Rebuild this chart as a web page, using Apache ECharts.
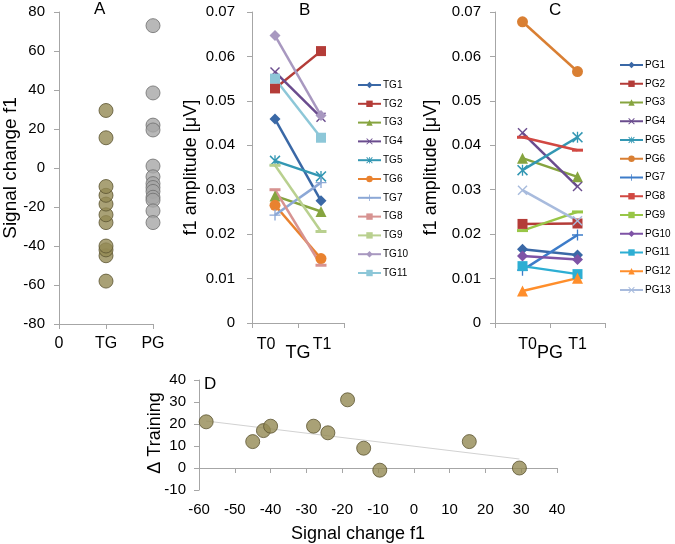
<!DOCTYPE html>
<html>
<head>
<meta charset="utf-8">
<script src="https://cdn.jsdelivr.net/npm/echarts@6/dist/echarts.min.js"></script>
<style>html,body{margin:0;padding:0;background:#fff;}#c{width:675px;height:544px;}</style>
</head>
<body>
<div id="c"></div>
<script>
// ---- Data ----
const tgChange = [-58, -45, -42, -40, -28, -24, -18.5, -14, -9.5, 15.5, 29.5];
const dTraining = [21, 12, 17, 19, 19, 16, 31, 9, -1, 12, 0];
const pgChange = [73, 38.5, 22, 19.5, 1, -4.5, -8, -10, -12, -15, -16.5, -22, -28];

const groupTicks = ['0', 'TG', 'PG'];
const timeCats = ['T0', 'T1'];

const tgNames = ['TG1','TG2','TG3','TG4','TG5','TG6','TG7','TG8','TG9','TG10','TG11'];
const tgT0 = [0.0459, 0.0528, 0.0286, 0.0565, 0.0365, 0.0265, 0.0243, 0.0300, 0.0355, 0.0647, 0.0550];
const tgT1 = [0.0275, 0.0612, 0.0251, 0.0463, 0.0330, 0.0145, 0.0316, 0.0130, 0.0206, 0.0467, 0.0417];

const pgNames = ['PG1','PG2','PG3','PG4','PG5','PG6','PG7','PG8','PG9','PG10','PG11','PG12','PG13'];
const pgT0 = [0.0166, 0.0223, 0.0371, 0.0428, 0.0344, 0.0678, 0.0119, 0.0418, 0.0208, 0.0151, 0.0128, 0.0072, 0.0299];
const pgT1 = [0.0153, 0.0224, 0.0329, 0.0307, 0.0418, 0.0566, 0.0198, 0.0389, 0.0250, 0.0143, 0.0110, 0.0101, 0.0230];

// ---- Styles ----
const FONT = 'Liberation Sans, Arial, sans-serif';
const AX = '#A6A6A6';
const xPath = 'path://M0,1 L1,0 L5,4 L9,0 L10,1 L6,5 L10,9 L9,10 L5,6 L1,10 L0,9 L4,5 Z';
const starPath = 'path://M0,1 L1,0 L5,4 L9,0 L10,1 L6,5 L10,9 L9,10 L5,6 L1,10 L0,9 L4,5 Z M4.4,0 L5.6,0 L5.6,10 L4.4,10 Z';
const plusPath = 'path://M4.4,0 H5.6 V4.4 H10 V5.6 H5.6 V10 H4.4 V5.6 H0 V4.4 H4.4 Z';
const dashPath = 'path://M0,0 H10 V2 H0 Z';
const SYM = {
  diamond: ['diamond', 11], rect: ['rect', 10], triangle: ['triangle', 11], x: [xPath, 10],
  star: [starPath, 11], circle: ['circle', 11], plus: [plusPath, 11], dash: [dashPath, [11, 3]]
};
const tgSym = ['diamond','rect','triangle','x','star','circle','plus','dash','dash','diamond','rect'];
const pgSym = ['diamond','rect','triangle','x','star','circle','plus','dash','dash','diamond','rect','triangle','x'];
const tgColors = ['#3A68A6','#B43C38','#86A43F','#6A4C8E','#3397B3','#E9822F','#8CA8D6','#D79391','#B9D08F','#A898C0','#8DC7D8'];
const pgColors = ['#3A68A6','#B43C38','#86A43F','#6A4C8E','#3397B3','#D97F33','#3D7CC9','#D14842','#98C647','#7E53A6','#2DAED3','#FF8E2B','#A8BBDD'];

const axisCommon = {
  axisLine: { show: true, onZero: false, lineStyle: { color: AX, width: 1 } },
  axisTick: { show: true, inside: false, length: 5, lineStyle: { color: AX } },
  splitLine: { show: false },
  nameMoveOverlap: false,
  axisLabel: { color: '#000', fontSize: 15, fontFamily: FONT },
  nameTextStyle: { color: '#000', fontSize: 18, fontFamily: FONT }
};
function ax(o) { return Object.assign({}, JSON.parse(JSON.stringify(axisCommon)), o); }

// trend line (least squares)
const n = tgChange.length;
const mx = tgChange.reduce((a, b) => a + b, 0) / n;
const my = dTraining.reduce((a, b) => a + b, 0) / n;
let sxy = 0, sxx = 0;
for (let i = 0; i < n; i++) { sxy += (tgChange[i] - mx) * (dTraining[i] - my); sxx += (tgChange[i] - mx) ** 2; }
const slope = sxy / sxx, icpt = my - slope * mx;
const xmin = Math.min(...tgChange), xmax = Math.max(...tgChange);

const series = [];
series.push({
  type: 'scatter', xAxisIndex: 0, yAxisIndex: 0, symbolSize: 14,
  itemStyle: { color: '#948A54', borderColor: '#5B5431', borderWidth: 1 },
  data: tgChange.map(v => [1, v])
});
series.push({
  type: 'scatter', xAxisIndex: 0, yAxisIndex: 0, symbolSize: 14,
  itemStyle: { color: '#A6A6A6', borderColor: '#6E6E6E', borderWidth: 1 },
  data: pgChange.map(v => [2, v])
});
function lineSeries(name, t0, t1, sym, color, gi) {
  const s = SYM[sym];
  return {
    type: 'line', name: name, xAxisIndex: gi, yAxisIndex: gi,
    data: [t0, t1], symbol: s[0], symbolSize: s[1], showSymbol: true,
    itemStyle: { color: color }, lineStyle: { color: color, width: 2.5 },
    emphasis: { disabled: true }
  };
}
tgNames.forEach((nm, i) => series.push(lineSeries(nm, tgT0[i], tgT1[i], tgSym[i], tgColors[i], 1)));
pgNames.forEach((nm, i) => series.push(lineSeries(nm, pgT0[i], pgT1[i], pgSym[i], pgColors[i], 2)));
series.push({
  type: 'line', xAxisIndex: 3, yAxisIndex: 3, symbol: 'none', z: 1,
  lineStyle: { color: '#D2D2D2', width: 1.1 },
  data: [[xmin, icpt + slope * xmin], [xmax, icpt + slope * xmax]]
});
series.push({
  type: 'scatter', xAxisIndex: 3, yAxisIndex: 3, symbolSize: 14, z: 3,
  itemStyle: { color: '#948A54', borderColor: '#5B5431', borderWidth: 1 },
  data: tgChange.map((x, i) => [x, dTraining[i]])
});

const titleStyle = { color: '#000', fontSize: 17, fontWeight: 'normal', fontFamily: FONT };
const legendText = { fontSize: 10, lineHeight: 12, color: '#000', fontFamily: FONT, overflow: 'none', padding: [0, 0, 0, -3] };
const option = {
  animation: false,
  textStyle: { fontFamily: FONT },
  title: [
    { text: 'A', left: 94, top: 1, padding: 0, textStyle: titleStyle },
    { text: 'B', left: 299, top: 2, padding: 0, textStyle: titleStyle },
    { text: 'C', left: 549, top: 2, padding: 0, textStyle: titleStyle },
    { text: 'D', left: 204, top: 376, padding: 0, textStyle: titleStyle }
  ],
  legend: [
    { orient: 'vertical', left: 357, top: 79, itemWidth: 23, itemHeight: 8, itemGap: 6.8, padding: 0,
      textStyle: legendText, data: tgNames, selectedMode: false },
    { orient: 'vertical', left: 619, top: 59, itemWidth: 23, itemHeight: 8, itemGap: 6.75, padding: 0,
      textStyle: legendText, data: pgNames, selectedMode: false }
  ],
  grid: [
    { left: 59, top: 12, width: 94, height: 312 },
    { left: 252, top: 12, width: 92, height: 311 },
    { left: 495, top: 12, width: 110, height: 311 },
    { left: 199, top: 380, width: 358, height: 137 }
  ],
  xAxis: [
    ax({ gridIndex: 0, type: 'value', min: 0, max: 2, interval: 1,
      axisLabel: { color: '#000', fontSize: 16, fontFamily: FONT, margin: 12, formatter: v => groupTicks[Math.round(v)] } }),
    ax({ gridIndex: 1, type: 'category', data: timeCats, boundaryGap: true,
      axisLabel: { color: '#000', fontSize: 16, fontFamily: FONT, margin: 14, interval: 0, hideOverlap: false,
        formatter: v => v === 'T0' ? '{a|T0}' : '{b|T1}',
        rich: { a: { fontSize: 16, padding: [0, 18, 0, 0] }, b: { fontSize: 16, padding: [0, 0, 0, 2] } } },
      axisTick: { show: true, length: 5, interval: 0, lineStyle: { color: AX } },
      name: 'TG', nameLocation: 'middle', nameGap: 21 }),
    ax({ gridIndex: 2, type: 'category', data: timeCats, boundaryGap: true,
      axisLabel: { color: '#000', fontSize: 16, fontFamily: FONT, margin: 14, interval: 0, hideOverlap: false,
        formatter: v => v === 'T0' ? '{a|T0}' : '{b|T1}',
        rich: { a: { fontSize: 16, padding: [0, 0, 0, 10] }, b: { fontSize: 16, padding: [0, 0, 0, 0] } } },
      axisTick: { show: true, length: 5, interval: 0, lineStyle: { color: AX } },
      name: 'PG', nameLocation: 'middle', nameGap: 21 }),
    ax({ gridIndex: 3, type: 'value', min: -60, max: 40, interval: 10,
      axisLine: { show: true, onZero: true, lineStyle: { color: AX } },
      axisLabel: { color: '#000', fontSize: 15, fontFamily: FONT, margin: 12 },
      name: 'Signal change f1', nameLocation: 'middle', nameGap: 35,
      nameTextStyle: { color: '#000', fontSize: 18, fontFamily: FONT, padding: [0, 40, 0, 0] } })
  ],
  yAxis: [
    ax({ gridIndex: 0, type: 'value', min: -80, max: 80, interval: 20,
      axisLabel: { color: '#000', fontSize: 15, fontFamily: FONT, margin: 14 },
      name: 'Signal change f1', nameLocation: 'middle', nameGap: 39,
      nameTextStyle: { color: '#000', fontSize: 19, fontFamily: FONT } }),
    ax({ gridIndex: 1, type: 'value', min: 0, max: 0.07, interval: 0.01,
      axisLabel: { color: '#000', fontSize: 15, fontFamily: FONT, margin: 17 },
      name: 'f1 amplitude [μV]', nameLocation: 'middle', nameGap: 52 }),
    ax({ gridIndex: 2, type: 'value', min: 0, max: 0.07, interval: 0.01,
      axisLabel: { color: '#000', fontSize: 15, fontFamily: FONT, margin: 14 },
      name: 'f1 amplitude [μV]', nameLocation: 'middle', nameGap: 55 }),
    ax({ gridIndex: 3, type: 'value', min: -10, max: 40, interval: 10,
      axisLabel: { color: '#000', fontSize: 15, fontFamily: FONT, margin: 13 },
      name: 'Δ Training', nameLocation: 'middle', nameGap: 35,
      nameTextStyle: { color: '#000', fontSize: 18, fontFamily: FONT, padding: [0, 0, 0, 4] } })
  ],
  series: series
};
const chart = echarts.init(document.getElementById('c'), null, { renderer: 'canvas' });
chart.setOption(option);
</script>
</body>
</html>
